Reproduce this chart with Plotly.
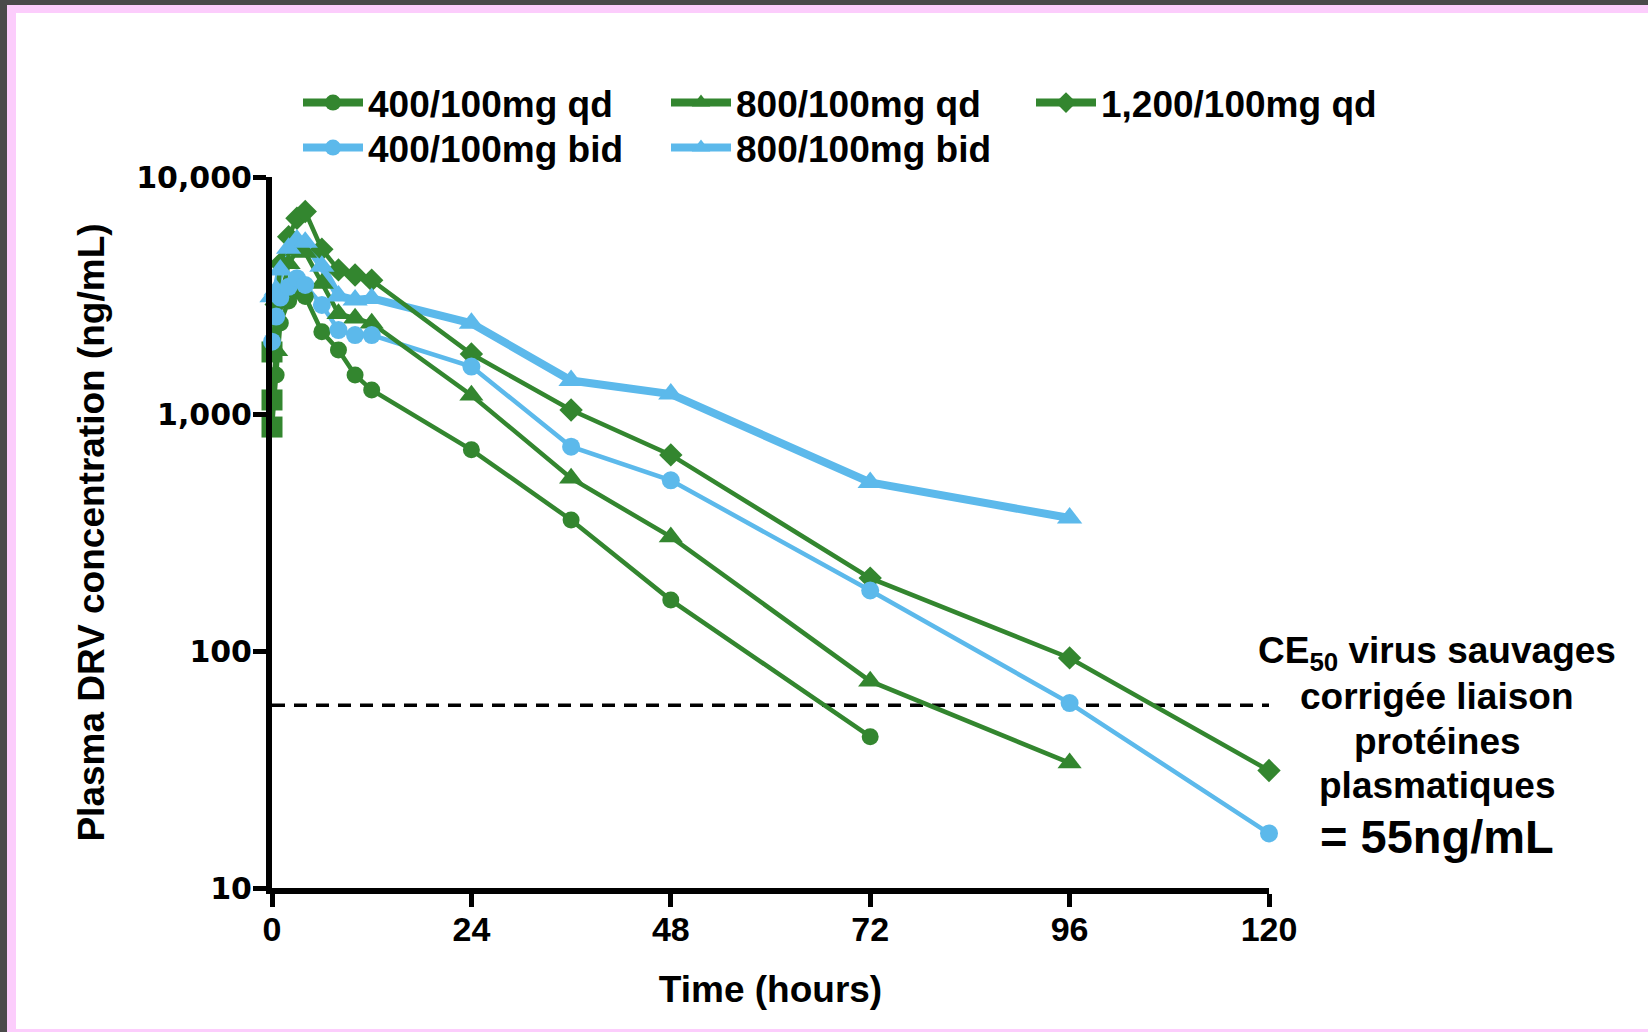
import plotly.graph_objects as go

# ---------------- data ----------------
t_400qd = [0, 0.5, 1, 2, 3, 4, 6, 8, 10, 12, 24, 36, 48, 72]
c_400qd = [881, 1462, 2422, 3000, 3300, 3130, 2225, 1862, 1462, 1262, 706, 357, 164, 43.5]

t_800qd = [0, 0.5, 1, 2, 3, 4, 6, 8, 10, 12, 24, 36, 48, 72, 96]
c_800qd = [1146, 1850, 3000, 4300, 4900, 4800, 3556, 2650, 2535, 2414, 1200, 536, 303, 74.6, 33.7]

t_1200qd = [0, 0.5, 1, 2, 3, 4, 6, 8, 10, 12, 24, 36, 48, 72, 96, 120]
c_1200qd = [1827, 2900, 4300, 5600, 6700, 7150, 4955, 4055, 3857, 3670, 1790, 1040, 672, 203, 93.5, 31.3]

t_400bid = [0, 0.5, 1, 2, 3, 4, 6, 8, 10, 12, 24, 36, 48, 72, 96, 120]
c_400bid = [2018, 2577, 3100, 3442, 3743, 3502, 2884, 2260, 2152, 2152, 1585, 728, 525, 180, 60.3, 17]

t_800bid = [0, 0.5, 1, 2, 3, 4, 6, 8, 10, 12, 24, 36, 48, 72, 96]
c_800bid = [3127, 3334, 4055, 5003, 5420, 5300, 4200, 3150, 3028, 3075, 2415, 1384, 1213, 514, 364]

series_names = ["400/100mg qd", "800/100mg qd", "1,200/100mg qd", "400/100mg bid", "800/100mg bid"]

ec50_value = 59
ec50_x = [0, 120]

x_ticks = [0, 24, 48, 72, 96, 120]
y_ticks = [10, 100, 1000, 10000]
y_ticktext = ["10", "100", "1,000", "10,000"]

annot_lines = ["CE<sub>50</sub> virus sauvages", "corrigée liaison", "protéines", "plasmatiques"]
annot_value = "= 55ng/mL"

# ---------------- styling ----------------
GREEN = "#33862F"
BLUE = "#5CB9EB"
W, H = 1648, 1032
L, R, T, B = 272, 1269, 177, 888          # plot area in pixels
PW, PH = R - L, B - T


def px(xpix):
    return (xpix - L) / PW


def py(ypix):
    return (B - ypix) / PH


FONT = "Liberation Sans, Arial, sans-serif"

series = [
    dict(t=t_400qd, c=c_400qd, color=GREEN, sym="circle", ms=17, lw=4.5, qd=True, leg="legend"),
    dict(t=t_800qd, c=c_800qd, color=GREEN, sym="triangle-up", ms=21, lw=4.5, qd=True, leg="legend2"),
    dict(t=t_1200qd, c=c_1200qd, color=GREEN, sym="diamond", ms=18, lw=4.5, qd=True, leg="legend3"),
    dict(t=t_400bid, c=c_400bid, color=BLUE, sym="circle", ms=18, lw=4.5, qd=False, leg="legend4"),
    dict(t=t_800bid, c=c_800bid, color=BLUE, sym="triangle-up", ms=22, lw=8, qd=False, leg="legend5"),
]

fig = go.Figure()

# threshold dashed line
fig.add_trace(go.Scatter(x=ec50_x, y=[ec50_value, ec50_value], mode="lines",
                         line=dict(color="black", width=3.5, dash="13px,9px"),
                         showlegend=False, hoverinfo="skip", cliponaxis=False))

# lines first (thick 800 bid at the bottom)
for i in [4, 3, 2, 1, 0]:
    s = series[i]
    fig.add_trace(go.Scatter(x=s["t"], y=s["c"], mode="lines",
                             line=dict(color=s["color"], width=s["lw"]),
                             showlegend=False, cliponaxis=False))
# markers on top (blue markers above green ones)
for i in [2, 1, 0, 4, 3]:
    s = series[i]
    syms = [s["sym"]] * len(s["t"])
    sizes = [s["ms"]] * len(s["t"])
    if s["qd"]:
        syms[0] = "square"
        sizes[0] = 21
    fig.add_trace(go.Scatter(x=s["t"], y=s["c"], mode="markers",
                             marker=dict(color=s["color"], symbol=syms, size=sizes,
                                         opacity=1, line=dict(width=0)),
                             showlegend=False, cliponaxis=False))

# legend entries (one legend box per entry, arranged like the reference)
leg_pos = {
    "legend": (298, 103), "legend2": (666, 103), "legend3": (1031, 103),
    "legend4": (298, 148), "legend5": (666, 148),
}
for i, s in enumerate(series):
    fig.add_trace(go.Scatter(x=[None], y=[None], mode="lines+markers", name=series_names[i],
                             line=dict(color=s["color"], width=8),
                             marker=dict(color=s["color"], symbol=s["sym"], size=16, opacity=1),
                             legend=s["leg"]))

legend_common = dict(font=dict(family=FONT, size=37, color="black", weight="bold"),
                     bgcolor="rgba(0,0,0,0)", borderwidth=0, itemwidth=60,
                     xanchor="left", yanchor="middle", orientation="v", itemclick=False)
for k, (lx, ly) in leg_pos.items():
    fig.update_layout(**{k: dict(x=px(lx), y=py(ly), **legend_common)})

# annotations on the right
annot_y = [653, 696, 741, 785]
annotations = []
for txt, yy in zip(annot_lines, annot_y):
    annotations.append(dict(text=txt, x=px(1437), y=py(yy), xref="paper", yref="paper",
                            xanchor="center", yanchor="middle", showarrow=False,
                            font=dict(family=FONT, size=37, color="black", weight="bold")))
annotations.append(dict(text=annot_value, x=px(1437), y=py(836), xref="paper", yref="paper",
                        xanchor="center", yanchor="middle", showarrow=False,
                        font=dict(family=FONT, size=47, color="black", weight="bold")))

# frame around the picture (dark + pink border)
DARK = "#4A4A4A"
PINK = "#FCCDFC"
shapes = [
    dict(type="rect", xref="paper", yref="paper", x0=px(0), x1=px(7), y0=py(H), y1=py(0),
         fillcolor=DARK, line=dict(width=0), layer="below"),
    dict(type="rect", xref="paper", yref="paper", x0=px(0), x1=px(W), y0=py(5), y1=py(0),
         fillcolor=DARK, line=dict(width=0), layer="below"),
    dict(type="rect", xref="paper", yref="paper", x0=px(7), x1=px(W), y0=py(13), y1=py(5),
         fillcolor=PINK, line=dict(width=0), layer="below"),
    dict(type="rect", xref="paper", yref="paper", x0=px(7), x1=px(16), y0=py(H), y1=py(5),
         fillcolor=PINK, line=dict(width=0), layer="below"),
    dict(type="rect", xref="paper", yref="paper", x0=px(7), x1=px(W), y0=py(H), y1=py(1029),
         fillcolor=PINK, line=dict(width=0), layer="below"),
]

fig.update_layout(
    width=W, height=H,
    margin=dict(l=L, r=W - R, t=T, b=H - B, pad=0),
    paper_bgcolor="white", plot_bgcolor="white",
    annotations=annotations, shapes=shapes,
    xaxis=dict(range=[0, 120], tickvals=x_ticks, showgrid=False, zeroline=False,
               showline=True, linecolor="black", linewidth=6,
               ticks="outside", ticklen=13, tickwidth=5, tickcolor="black",
               ticklabelstandoff=-7,
               tickfont=dict(family=FONT, size=34, color="black", weight="bold"),
               title=dict(text="Time (hours)", standoff=31,
                          font=dict(family=FONT, size=37, color="black", weight="bold"))),
    yaxis=dict(type="log", range=[1, 4], tickvals=y_ticks, ticktext=y_ticktext,
               showgrid=False, zeroline=False,
               showline=True, linecolor="black", linewidth=6,
               ticks="outside", ticklen=13, tickwidth=5, tickcolor="black",
               ticklabelstandoff=-5,
               tickfont=dict(family="DejaVu Sans", size=30, color="black", weight="bold"),
               title=dict(text="Plasma DRV concentration (ng/mL)", standoff=22,
                          font=dict(family=FONT, size=37, color="black", weight="bold"))),
)

fig.write_html("out.html")
